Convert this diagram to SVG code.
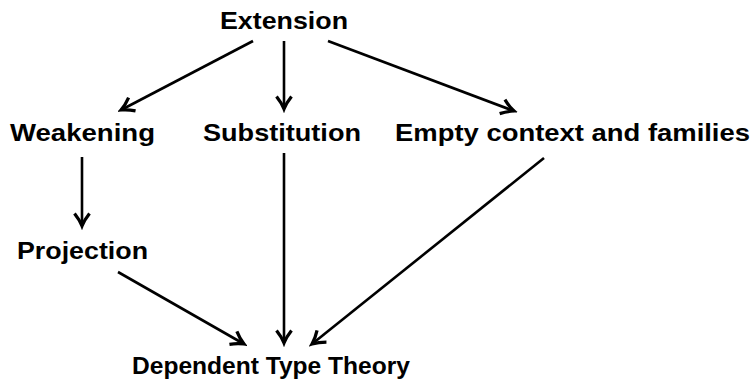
<svg xmlns="http://www.w3.org/2000/svg" width="753" height="380" viewBox="0 0 753 380">
<style>
.lbl{font-family:"Liberation Sans",Arial,sans-serif;font-weight:bold;font-size:24.5px;fill:#000}
.edge{stroke:#000;stroke-width:2.6;fill:none}
</style>
<defs>
<marker id="ah" markerUnits="userSpaceOnUse" markerWidth="20" markerHeight="20" viewBox="-12 -8 14 16" refX="0" refY="0" orient="auto">
<path d="M-10,-6 Q-5,-2 0,0 Q-5,2 -10,6" fill="none" stroke="#000" stroke-width="2.6" stroke-linejoin="miter"/>
</marker>
</defs>
<rect width="753" height="380" fill="#fff"/>
<g id="connectors">
<line class="edge" x1="253" y1="41" x2="121" y2="110" marker-end="url(#ah)"/>
<line class="edge" x1="284" y1="41" x2="284" y2="109" marker-end="url(#ah)"/>
<line class="edge" x1="328" y1="41" x2="514" y2="111" marker-end="url(#ah)"/>
<line class="edge" x1="82" y1="157" x2="82" y2="226" marker-end="url(#ah)"/>
<line class="edge" x1="118" y1="272" x2="244" y2="344" marker-end="url(#ah)"/>
<line class="edge" x1="284" y1="153" x2="284" y2="343" marker-end="url(#ah)"/>
<line class="edge" x1="544" y1="158" x2="312" y2="344" marker-end="url(#ah)"/>
</g>
<g id="extension"><text class="lbl" x="220" y="29" textLength="128" lengthAdjust="spacingAndGlyphs">Extension</text></g>
<g id="weakening"><text class="lbl" x="10" y="141" textLength="145" lengthAdjust="spacingAndGlyphs">Weakening</text></g>
<g id="substitution"><text class="lbl" x="203" y="141" textLength="158" lengthAdjust="spacingAndGlyphs">Substitution</text></g>
<g id="empty"><text class="lbl" x="395" y="141" textLength="355" lengthAdjust="spacingAndGlyphs">Empty context and families</text></g>
<g id="projection"><text class="lbl" x="17" y="259" textLength="131" lengthAdjust="spacingAndGlyphs">Projection</text></g>
<g id="dtt"><text class="lbl" x="132" y="374" textLength="278" lengthAdjust="spacingAndGlyphs">Dependent Type Theory</text></g>
</svg>
